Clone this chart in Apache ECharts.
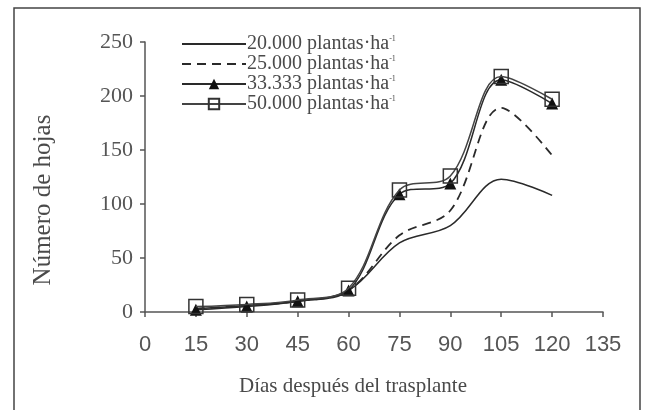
<!DOCTYPE html>
<html>
<head>
<meta charset="utf-8">
<script src="https://cdn.jsdelivr.net/npm/echarts@6/dist/echarts.min.js"></script>
<style>
html,body{margin:0;padding:0;background:#fff;}
#chart{width:645px;height:410px;}
</style>
</head>
<body>
<div id="chart"></div>
<script>
const days = [15, 30, 45, 60, 75, 90, 105, 120];
const seriesNames = ['20.000 plantas·ha', '25.000 plantas·ha', '33.333 plantas·ha', '50.000 plantas·ha'];
const d20000 = [3, 6, 10, 20, 64, 80, 123, 108];
const d25000 = [3, 6, 10, 20, 71, 94, 189, 145];
const d33333 = [2, 5, 10, 20, 109, 119, 215, 193];
const d50000 = [5, 7, 11, 22, 113, 126, 218, 197];
const xTicks = [0, 15, 30, 45, 60, 75, 90, 105, 120, 135];
const yTicks = [0, 50, 100, 150, 200, 250];
const xTitle = 'Días después del trasplante';
const yTitle = 'Número de hojas';

function pairs(arr) { return days.map((d, i) => [d, arr[i]]); }

const chart = echarts.init(document.getElementById('chart'), null, {renderer: 'canvas'});
const serif = 'Liberation Serif';
const sans = 'Liberation Sans';
const lineCol = '#2a2a2a';
const textCol = '#4a4a4a';

chart.setOption({
  animation: false,
  backgroundColor: '#fff',
  graphic: [
    {type: 'rect', z: 0, silent: true,
      shape: {x: 14, y: 8, width: 626, height: 420},
      style: {fill: 'none', stroke: '#444', lineWidth: 1.5}},
    {type: 'text', x: 353, y: 386, silent: true,
      style: {text: xTitle, fontFamily: serif, fontSize: 21, fill: textCol, align: 'center', verticalAlign: 'middle'}},
    {type: 'text', x: 43, y: 200, rotation: Math.PI / 2, silent: true,
      style: {text: yTitle, fontFamily: serif, fontSize: 25, fill: textCol, align: 'center', verticalAlign: 'middle'}}
  ],
  grid: {left: 145, right: 42, top: 42, bottom: 98},
  legend: {
    orient: 'vertical', left: 176, top: 29,
    itemWidth: 64, itemHeight: 13, itemGap: 0,
    data: [
      {name: seriesNames[0], itemStyle: {opacity: 0}},
      {name: seriesNames[1], itemStyle: {opacity: 0}},
      {name: seriesNames[2]},
      {name: seriesNames[3]}
    ],
    formatter: n => n + '{sup|-1}',
    textStyle: {
      fontFamily: serif, fontSize: 20, lineHeight: 19, color: textCol, padding: [0, 0, 0, -4],
      rich: {sup: {fontFamily: serif, fontSize: 8, color: textCol, verticalAlign: 'top', padding: [0, 0, 10, 0]}}
    }
  },
  xAxis: {
    type: 'value', min: 0, max: 135, interval: 15,
    axisLine: {show: true, lineStyle: {color: '#555', width: 1.5}},
    axisTick: {show: true, length: 5, lineStyle: {color: '#555', width: 1.5}},
    axisLabel: {fontFamily: sans, fontSize: 22, color: '#555', margin: 22,
      formatter: v => xTicks.includes(v) ? String(v) : ''},
    splitLine: {show: false}
  },
  yAxis: {
    type: 'value', min: 0, max: 250, interval: 50,
    axisLine: {show: true, lineStyle: {color: '#555', width: 1.5}},
    axisTick: {show: true, length: 5, lineStyle: {color: '#555', width: 1.5}},
    axisLabel: {fontFamily: serif, fontSize: 22, color: '#555', margin: 12,
      formatter: v => yTicks.includes(v) ? String(v) : ''},
    splitLine: {show: false}
  },
  series: [
    {name: seriesNames[0], type: 'line', data: pairs(d20000), smooth: 0.35,
      showSymbol: false, symbol: 'none', z: 2,
      lineStyle: {color: lineCol, width: 1.5}, itemStyle: {color: lineCol}},
    {name: seriesNames[1], type: 'line', data: pairs(d25000), smooth: 0.35,
      showSymbol: false, symbol: 'none', z: 2,
      lineStyle: {color: lineCol, width: 1.8, type: [9, 6]}, itemStyle: {color: lineCol}},
    {name: seriesNames[2], type: 'line', data: pairs(d33333), smooth: 0.35,
      symbol: 'triangle', symbolSize: 12, z: 3,
      lineStyle: {color: lineCol, width: 1.5}, itemStyle: {color: '#111', borderWidth: 0}},
    {name: seriesNames[3], type: 'line', data: pairs(d50000), smooth: 0.35,
      symbol: 'rect', symbolSize: 14, z: 4,
      lineStyle: {color: '#444', width: 1.5},
      itemStyle: {color: 'rgba(255,255,255,0)', borderColor: '#333', borderWidth: 1.5}}
  ]
});
</script>
</body>
</html>
